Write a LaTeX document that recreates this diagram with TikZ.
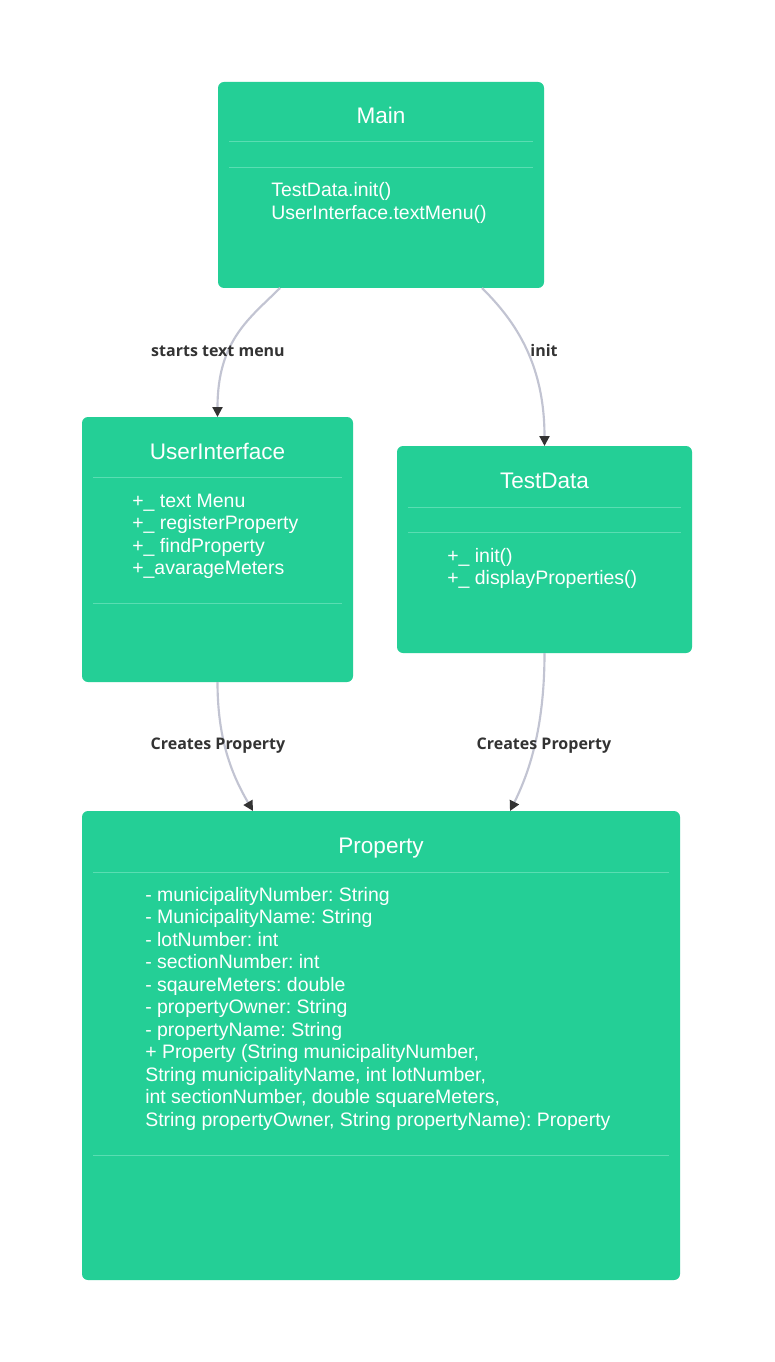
\documentclass[tikz,border=0pt]{standalone}
\usepackage{fontspec}
\setmainfont{Liberation Sans}
\newfontfamily\edgefont{Open Sans}
\usepackage{xcolor}
\usetikzlibrary{arrows.meta, positioning, calc}
\frenchspacing

\definecolor{classgreen}{HTML}{24CF96}
\definecolor{divgreen}{HTML}{5ADDB2}
\definecolor{edgegray}{HTML}{C2C4D2}
\definecolor{tipgray}{HTML}{333333}

\begin{document}
\begin{tikzpicture}[
    x=0.75pt, y=-0.75pt,
    classbox/.style={
        fill=classgreen,
        rounded corners=4.5pt,
        inner sep=0pt,
        outer sep=0pt
    },
    classtitle/.style={
        text=white,
        font=\fontsize{16.9}{20}\selectfont,
        inner sep=0pt,
        anchor=base
    },
    member/.style={
        text=white,
        font=\fontsize{14.6}{17}\selectfont,
        inner sep=0pt,
        anchor=base west
    },
    divider/.style={
        draw=divgreen,
        line width=0.75pt
    },
    assoc/.style={
        draw=edgegray,
        line width=1.6pt,
        -{Triangle[length=7.5pt, width=7.5pt, color=tipgray]}
    },
    edgelabel/.style={
        text=tipgray,
        font=\edgefont\bfseries\fontsize{12}{14}\selectfont,
        inner sep=0pt,
        anchor=base
    }
]

\fill[white] (0,0) rectangle (774,1362);
\useasboundingbox (0,0) rectangle (774,1362);

% Main class
\node[classbox, minimum width=244.5pt, minimum height=154.5pt] (main) at (381,185) {};
\node[classtitle] (mainTitle) at (381,124) {Main};
\draw[divider] ($(main.north west)+(11,60)$) -- ($(main.north east)+(-11,60)$);
\draw[divider] ($(main.north west)+(11,86)$) -- ($(main.north east)+(-11,86)$);
\foreach \txt/\y [count=\i] in {TestData.init()/197, UserInterface.textMenu()/219.5}
    \node[member] (mainM\i) at (271,\y) {\txt};

% UserInterface class
\node[classbox, minimum width=203.25pt, minimum height=198.75pt] (ui) at (217.5,549.5) {};
\node[classtitle] (uiTitle) at (217.5,459) {UserInterface};
\draw[divider] ($(ui.north west)+(11,60)$) -- ($(ui.north east)+(-11,60)$);
\draw[divider] ($(ui.north west)+(11,186)$) -- ($(ui.north east)+(-11,186)$);
\foreach \txt/\y [count=\i] in {+\_ text Menu/507, +\_ registerProperty/529.5, +\_ findProperty/552, +\_avarageMeters/574.5}
    \node[member] (uiM\i) at (132,\y) {\txt};

% TestData class
\node[classbox, minimum width=221.25pt, minimum height=155.25pt] (testdata) at (544.5,549.5) {};
\node[classtitle] (tdTitle) at (544.5,488) {TestData};
\draw[divider] ($(testdata.north west)+(11,61)$) -- ($(testdata.north east)+(-11,61)$);
\draw[divider] ($(testdata.north west)+(11,86)$) -- ($(testdata.north east)+(-11,86)$);
\foreach \txt/\y [count=\i] in {+\_ init()/562, +\_ displayProperties()/584.5}
    \node[member] (tdM\i) at (447,\y) {\txt};

% Property class
\node[classbox, minimum width=448.5pt, minimum height=351.75pt] (prop) at (381,1045.5) {};
\node[classtitle] (propTitle) at (381,853) {Property};
\draw[divider] ($(prop.north west)+(11,61)$) -- ($(prop.north east)+(-11,61)$);
\draw[divider] ($(prop.north west)+(11,344)$) -- ($(prop.north east)+(-11,344)$);
\foreach \txt [count=\i] in {
    - municipalityNumber: String,
    - MunicipalityName: String,
    - lotNumber: int,
    - sectionNumber: int,
    - sqaureMeters: double,
    - propertyOwner: String,
    - propertyName: String,
    {+ Property (String municipalityNumber,},
    {String municipalityName, int lotNumber,},
    {int sectionNumber, double squareMeters,},
    {String propertyOwner, String propertyName): Property}}
    \node[member] (propM\i) at (145,878.5+22.5*\i) {\txt};

% Associations
\draw[assoc] ([xshift=-75.75pt]main.south) .. controls +(-30,30) and +(0,-77) .. (ui.north);
\draw[assoc] ([xshift=75.75pt]main.south) .. controls +(30,30) and +(0,-86) .. (testdata.north);
\draw[assoc] (ui.south) .. controls +(0,58) and +(-21,-36) .. ([xshift=-96pt]prop.north);
\draw[assoc] (testdata.south) .. controls +(0,77) and +(18,-36) .. ([xshift=96.75pt]prop.north);

% Edge labels
\node[edgelabel] (lblMenu) at (218,356) {starts text menu};
\node[edgelabel] (lblInit) at (544,356) {init};
\node[edgelabel] (lblCreateUi) at (218,749) {Creates Property};
\node[edgelabel] (lblCreateTd) at (544,749) {Creates Property};

\end{tikzpicture}
\end{document}
